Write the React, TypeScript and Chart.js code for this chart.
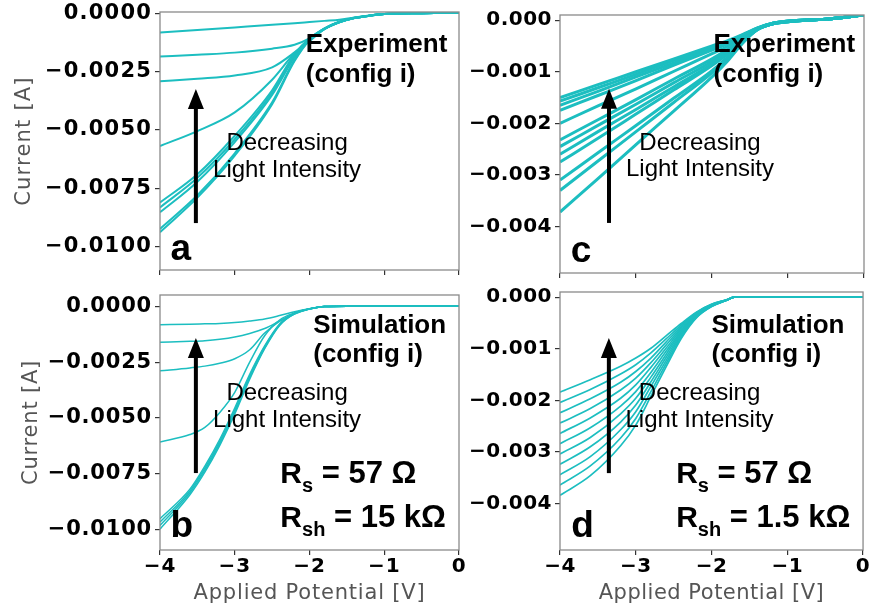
import { useEffect, useRef } from 'react';
import { Chart, registerables } from 'chart.js';

Chart.register(...registerables);

// ---------------- data ----------------
const xTicks = [-4, -3, -2, -1, 0];
const yTicksWide = [0, -0.0025, -0.005, -0.0075, -0.01];
const yTicksNarrow = [0, -0.001, -0.002, -0.003, -0.004];

// Panel a: experiment, config i
const vA = [-4, -3.5, -3, -2.5, -2.2, -2, -1.8, -1.6, -1.4, -1.2, -1, -0.5, 0];
const a1 = [-0.00083, -0.00072, -0.00061, -0.0005, -0.00043, -0.00038, -0.00033, -0.00028, -0.00018, -0.0001, -0.00004, 0, 0.00002];
const a2 = [-0.00186, -0.00178, -0.00169, -0.00152, -0.00135, -0.00108, -0.00065, -0.00037, -0.0002, -0.00011, -0.00004, 0, 0.00002];
const a3 = [-0.00292, -0.00281, -0.00267, -0.00232, -0.00168, -0.00115, -0.00067, -0.00038, -0.0002, -0.00011, -0.00004, 0, 0.00002];
const a4 = [-0.00569, -0.00505, -0.00425, -0.00285, -0.00172, -0.0012, -0.00068, -0.00038, -0.00021, -0.00011, -0.00004, 0, 0.00002];
const a5 = [-0.00811, -0.0069, -0.00525, -0.0033, -0.00175, -0.00108, -0.00066, -0.00038, -0.00021, -0.00011, -0.00004, 0, 0.00002];
const a6 = [-0.00832, -0.00705, -0.0054, -0.0034, -0.00182, -0.0011, -0.00066, -0.00038, -0.00021, -0.00011, -0.00004, 0, 0.00002];
const a7 = [-0.00853, -0.00722, -0.00552, -0.0035, -0.00188, -0.00112, -0.00067, -0.00038, -0.00021, -0.00011, -0.00004, 0, 0.00002];
const a8 = [-0.00924, -0.0078, -0.006, -0.00382, -0.002, -0.00114, -0.00067, -0.00039, -0.00021, -0.00011, -0.00004, 0, 0.00002];
const a9 = [-0.00938, -0.0079, -0.0061, -0.0039, -0.00205, -0.00116, -0.00068, -0.00039, -0.00021, -0.00011, -0.00004, 0, 0.00002];

// Panel b: simulation, Rs = 57, Rsh = 15k
const vB = [-4, -3.6, -3.4, -3.2, -3.0, -2.8, -2.6, -2.4, -2.2, -2.0, -1.8, -1.5, -1, -0.5, 0];
const b1 = [-0.00083, -0.00081, -0.00079, -0.00077, -0.00073, -0.00066, -0.00057, -0.00042, -0.00025, -0.00011, -0.00001, 0, 0, 0, 0];
const b2 = [-0.00161, -0.00157, -0.00154, -0.00148, -0.00138, -0.00122, -0.001, -0.00066, -0.00032, -0.00012, -0.00001, 0, 0, 0, 0];
const b3 = [-0.00289, -0.00276, -0.00268, -0.00255, -0.00235, -0.00195, -0.0012, -0.00068, -0.00035, -0.00013, -0.00001, 0, 0, 0, 0];
const b4 = [-0.00607, -0.00574, -0.00542, -0.00475, -0.00385, -0.0025, -0.00132, -0.00062, -0.0003, -0.00012, -0.00001, 0, 0, 0, 0];
const b5 = [-0.0095, -0.00818, -0.00715, -0.00595, -0.00455, -0.00305, -0.00178, -0.0008, -0.00031, -0.00012, -0.00001, 0, 0, 0, 0];
const b6 = [-0.00965, -0.00826, -0.00724, -0.00604, -0.00464, -0.00312, -0.00182, -0.00082, -0.00032, -0.00012, -0.00001, 0, 0, 0, 0];
const b7 = [-0.0098, -0.00834, -0.00733, -0.00613, -0.00473, -0.00319, -0.00186, -0.00084, -0.00033, -0.00012, -0.00001, 0, 0, 0, 0];
const b8 = [-0.00997, -0.00843, -0.00742, -0.00622, -0.00482, -0.00326, -0.0019, -0.00086, -0.00034, -0.00013, -0.00001, 0, 0, 0, 0];

// Panel c: experiment, config i
const vC = [-4, -3.5, -3, -2.5, -2, -1.8, -1.6, -1.4, -1.2, -1, -0.5, 0];
const c1 = [-0.0015, -0.00125, -0.001, -0.00075, -0.0005, -0.0004, -0.00028, -0.00015, -0.00006, -0.00002, 0.00002, 0.0001];
const c2 = [-0.00157, -0.00131, -0.00105, -0.00078, -0.00052, -0.00042, -0.00029, -0.00015, -0.00006, -0.00002, 0.00002, 0.0001];
const c3 = [-0.00165, -0.00138, -0.0011, -0.00083, -0.00055, -0.00044, -0.0003, -0.00016, -0.00006, -0.00002, 0.00002, 0.0001];
const c4 = [-0.00175, -0.00146, -0.00117, -0.00087, -0.00058, -0.00046, -0.00031, -0.00016, -0.00006, -0.00002, 0.00002, 0.0001];
const c5 = [-0.002, -0.00166, -0.00133, -0.00099, -0.00065, -0.00051, -0.00033, -0.00016, -0.00006, -0.00002, 0.00002, 0.0001];
const c6 = [-0.00232, -0.00193, -0.00154, -0.00114, -0.00075, -0.00057, -0.00036, -0.00017, -0.00007, -0.00002, 0.00002, 0.0001];
const c7 = [-0.00245, -0.00204, -0.00163, -0.00121, -0.0008, -0.0006, -0.00037, -0.00017, -0.00007, -0.00002, 0.00002, 0.0001];
const c8 = [-0.0026, -0.00216, -0.00173, -0.00129, -0.00085, -0.00064, -0.00039, -0.00017, -0.00007, -0.00003, 0.00002, 0.0001];
const c9 = [-0.00275, -0.00229, -0.00182, -0.00135, -0.00088, -0.00066, -0.0004, -0.00018, -0.00007, -0.00003, 0.00002, 0.0001];
const c10 = [-0.0031, -0.00257, -0.00204, -0.00151, -0.00098, -0.00072, -0.00042, -0.00018, -0.00007, -0.00003, 0.00002, 0.0001];
const c11 = [-0.0033, -0.00273, -0.00216, -0.00159, -0.00102, -0.00075, -0.00043, -0.00018, -0.00007, -0.00003, 0.00002, 0.0001];
const c12 = [-0.00372, -0.00307, -0.00241, -0.00176, -0.0011, -0.0008, -0.00045, -0.00018, -0.00007, -0.00003, 0.00002, 0.0001];

// Panel d: simulation, Rs = 57, Rsh = 1.5k
const vD = [-4, -3.6, -3.2, -3.0, -2.8, -2.6, -2.4, -2.2, -2.0, -1.8, -1.7, -1, 0];
const d1 = [-0.00184, -0.0016, -0.00134, -0.00118, -0.00099, -0.00075, -0.00051, -0.00029, -0.00014, -0.00005, 0, 0, 0];
const d2 = [-0.00204, -0.00179, -0.00149, -0.00131, -0.00108, -0.00081, -0.00054, -0.0003, -0.00014, -0.00005, 0, 0, 0];
const d3 = [-0.00224, -0.00197, -0.00165, -0.00144, -0.00118, -0.00087, -0.00057, -0.00031, -0.00015, -0.00005, 0, 0, 0];
const d4 = [-0.00244, -0.00216, -0.0018, -0.00157, -0.00127, -0.00093, -0.0006, -0.00032, -0.00015, -0.00005, 0, 0, 0];
const d5 = [-0.00264, -0.00234, -0.00196, -0.0017, -0.00136, -0.00099, -0.00063, -0.00033, -0.00016, -0.00005, 0, 0, 0];
const d6 = [-0.00284, -0.00253, -0.00211, -0.00183, -0.00146, -0.00105, -0.00066, -0.00035, -0.00016, -0.00006, 0, 0, 0];
const d7 = [-0.00304, -0.00272, -0.00226, -0.00196, -0.00155, -0.00111, -0.00068, -0.00036, -0.00016, -0.00006, 0, 0, 0];
const d8 = [-0.00324, -0.0029, -0.00242, -0.00209, -0.00164, -0.00117, -0.00071, -0.00037, -0.00017, -0.00006, 0, 0, 0];
const d9 = [-0.00344, -0.00309, -0.00257, -0.00222, -0.00173, -0.00123, -0.00074, -0.00038, -0.00017, -0.00006, 0, 0, 0];
const d10 = [-0.00364, -0.00327, -0.00273, -0.00235, -0.00183, -0.00129, -0.00077, -0.00039, -0.00018, -0.00006, 0, 0, 0];
const d11 = [-0.00384, -0.00346, -0.00288, -0.00248, -0.00192, -0.00135, -0.0008, -0.0004, -0.00018, -0.00006, 0, 0, 0];

// ---------------- styling / layout ----------------
const W = 872;
const H = 611;
const TEAL = 'rgb(28,190,192)';
const TICK_FONT = 'DejaVu Sans';
const ANNOT_FONT = '"Liberation Sans", Arial, sans-serif';

type TextItem = { t: string; v: number; i: number; font: string; align: CanvasTextAlign };
type RItem = { v: number; i: number; sub: string; rest: string };
type Arrow = { v: number; from: number; to: number };

type Panel = {
  v: number[];
  curves: number[][];
  yMin: number;
  yMax: number;
  yTicks: number[];
  decimals: number;
  area: { left: number; top: number; right: number; bottom: number };
  yWidth: number;
  xHeight: number;
  showXLabels: boolean;
  yTitle: boolean;
  yTitlePad: number;
  yFontSize: number;
  spacing: string;
  lineWidth: number;
  texts: TextItem[];
  rs: RItem[];
  arrow: Arrow;
};

const boldBig = `bold 26px ${ANNOT_FONT}`;
const regular = `24px ${ANNOT_FONT}`;
const letter = `bold 37px ${ANNOT_FONT}`;

const panels: Panel[] = [
  {
    v: vA,
    curves: [a1, a2, a3, a4, a5, a6, a7, a8, a9],
    yMin: -0.011,
    yMax: 0.00005,
    yTicks: yTicksWide,
    decimals: 4,
    area: { left: 160, top: 12, right: 459, bottom: 270 },
    yWidth: 160,
    xHeight: 15,
    showXLabels: false,
    yTitle: true,
    yTitlePad: 12,
    yFontSize: 21,
    spacing: '1.2px',
    lineWidth: 2,
    texts: [
      { t: 'Experiment', v: -2.05, i: -0.00166, font: boldBig, align: 'left' },
      { t: '(config i)', v: -2.05, i: -0.00295, font: boldBig, align: 'left' },
      { t: 'Decreasing', v: -2.3, i: -0.00586, font: regular, align: 'center' },
      { t: 'Light Intensity', v: -2.3, i: -0.00702, font: regular, align: 'center' },
      { t: 'a', v: -3.86, i: -0.01057, font: letter, align: 'left' },
    ],
    rs: [],
    arrow: { v: -3.52, from: -0.00899, to: -0.00325 },
  },
  {
    v: vB,
    curves: [b1, b2, b3, b4, b5, b6, b7, b8],
    yMin: -0.0109,
    yMax: 0.0005,
    yTicks: yTicksWide,
    decimals: 4,
    area: { left: 160, top: 295, right: 459, bottom: 550 },
    yWidth: 160,
    xHeight: 61,
    showXLabels: true,
    yTitle: true,
    yTitlePad: 19,
    yFontSize: 21,
    spacing: '0.8px',
    lineWidth: 1.5,
    texts: [
      { t: 'Simulation', v: -1.95, i: -0.0012, font: boldBig, align: 'left' },
      { t: '(config i)', v: -1.95, i: -0.0025, font: boldBig, align: 'left' },
      { t: 'Decreasing', v: -2.3, i: -0.00419, font: regular, align: 'center' },
      { t: 'Light Intensity', v: -2.3, i: -0.0054, font: regular, align: 'center' },
      { t: 'b', v: -3.86, i: -0.01032, font: letter, align: 'left' },
    ],
    rs: [
      { v: -2.39, i: -0.0079, sub: 's', rest: ' = 57 \u03A9' },
      { v: -2.39, i: -0.00987, sub: 'sh', rest: ' = 15 k\u03A9' },
    ],
    arrow: { v: -3.52, from: -0.00746, to: -0.00142 },
  },
  {
    v: vC,
    curves: [c1, c2, c3, c4, c5, c6, c7, c8, c9, c10, c11, c12],
    yMin: -0.0049,
    yMax: 0.0001,
    yTicks: yTicksNarrow,
    decimals: 3,
    area: { left: 560, top: 15, right: 864, bottom: 273 },
    yWidth: 110,
    xHeight: 15,
    showXLabels: false,
    yTitle: false,
    yTitlePad: 0,
    yFontSize: 20,
    spacing: '0.5px',
    lineWidth: 3,
    texts: [
      { t: 'Experiment', v: -1.98, i: -0.000617, font: boldBig, align: 'left' },
      { t: '(config i)', v: -1.98, i: -0.0012, font: boldBig, align: 'left' },
      { t: 'Decreasing', v: -2.158, i: -0.002516, font: regular, align: 'center' },
      { t: 'Light Intensity', v: -2.158, i: -0.00302, font: regular, align: 'center' },
      { t: 'c', v: -3.86, i: -0.00469, font: letter, align: 'left' },
    ],
    rs: [],
    arrow: { v: -3.355, from: -0.00393, to: -0.00133 },
  },
  {
    v: vD,
    curves: [d1, d2, d3, d4, d5, d6, d7, d8, d9, d10, d11],
    yMin: -0.0049,
    yMax: 0.0001,
    yTicks: yTicksNarrow,
    decimals: 3,
    area: { left: 560, top: 292, right: 864, bottom: 550 },
    yWidth: 110,
    xHeight: 61,
    showXLabels: true,
    yTitle: false,
    yTitlePad: 0,
    yFontSize: 20,
    spacing: '0.5px',
    lineWidth: 1.7,
    texts: [
      { t: 'Simulation', v: -2.0, i: -0.000695, font: boldBig, align: 'left' },
      { t: '(config i)', v: -2.0, i: -0.001257, font: boldBig, align: 'left' },
      { t: 'Decreasing', v: -2.158, i: -0.00199, font: regular, align: 'center' },
      { t: 'Light Intensity', v: -2.158, i: -0.00252, font: regular, align: 'center' },
      { t: 'd', v: -3.85, i: -0.00465, font: letter, align: 'left' },
    ],
    rs: [
      { v: -2.467, i: -0.0036, sub: 's', rest: ' = 57 \u03A9' },
      { v: -2.467, i: -0.00445, sub: 'sh', rest: ' = 1.5 k\u03A9' },
    ],
    arrow: { v: -3.355, from: -0.00341, to: -0.00079 },
  },
];

const fmt = (d: number) => (val: number | string) => {
  const n = Number(val);
  if (Math.abs(n) < 1e-12) return (0).toFixed(d);
  return n.toFixed(d).replace('-', '\u2212');
};

function panelPlugin(p: Panel, idx: number) {
  return {
    id: 'panelDecor' + idx,
    beforeDraw(chart: any) {
      (chart.ctx as any).letterSpacing = p.spacing;
    },
    afterDraw(chart: any) {
      const ctx: CanvasRenderingContext2D = chart.ctx;
      (ctx as any).letterSpacing = '0px';
      const xs = chart.scales.x;
      const ys = chart.scales.y;
      const { left, top, right, bottom } = chart.chartArea;
      ctx.save();
      // frame
      ctx.strokeStyle = '#8a8a8a';
      ctx.lineWidth = 1.3;
      ctx.strokeRect(left, top, right - left, bottom - top);

      // arrow
      const ax = xs.getPixelForValue(p.arrow.v);
      const ay0 = ys.getPixelForValue(p.arrow.from);
      const ay1 = ys.getPixelForValue(p.arrow.to);
      const headL = 20;
      const headW = 8;
      ctx.strokeStyle = '#000';
      ctx.fillStyle = '#000';
      ctx.lineWidth = 4;
      ctx.beginPath();
      ctx.moveTo(ax, ay0);
      ctx.lineTo(ax, ay1 + headL - 1);
      ctx.stroke();
      ctx.beginPath();
      ctx.moveTo(ax, ay1);
      ctx.lineTo(ax - headW, ay1 + headL);
      ctx.lineTo(ax + headW, ay1 + headL);
      ctx.closePath();
      ctx.fill();

      // texts
      ctx.textBaseline = 'alphabetic';
      for (const t of p.texts) {
        ctx.font = t.font;
        ctx.textAlign = t.align;
        ctx.fillText(t.t, xs.getPixelForValue(t.v), ys.getPixelForValue(t.i));
      }
      // R_s / R_sh lines
      ctx.textAlign = 'left';
      for (const r of p.rs) {
        let x = xs.getPixelForValue(r.v);
        const y = ys.getPixelForValue(r.i);
        ctx.font = `bold 30px ${ANNOT_FONT}`;
        ctx.fillText('R', x, y);
        x += ctx.measureText('R').width;
        ctx.font = `bold 20px ${ANNOT_FONT}`;
        ctx.fillText(r.sub, x, y + 9);
        x += ctx.measureText(r.sub).width;
        ctx.font = `bold 31px ${ANNOT_FONT}`;
        ctx.fillText(r.rest, x, y);
      }
      ctx.restore();
    },
  };
}

function makeChart(canvas: HTMLCanvasElement, p: Panel, idx: number) {
  const pad = {
    left: p.area.left - p.yWidth,
    top: p.area.top,
    right: W - p.area.right,
    bottom: H - p.area.bottom - p.xHeight,
  };
  return new Chart(canvas, {
    type: 'line',
    data: {
      datasets: p.curves.map((c) => ({
        data: p.v.map((x, k) => ({ x, y: c[k] })),
        borderColor: TEAL,
        backgroundColor: TEAL,
        borderWidth: p.lineWidth,
        pointRadius: 0,
        fill: false,
        cubicInterpolationMode: 'monotone' as const,
      })),
    },
    options: {
      responsive: false,
      animation: false,
      events: [],
      layout: { padding: pad },
      plugins: {
        legend: { display: false },
        tooltip: { enabled: false },
        title: { display: false },
      },
      scales: {
        x: {
          type: 'linear',
          min: -4,
          max: 0,
          afterBuildTicks: (s: any) => {
            s.ticks = xTicks.map((value) => ({ value }));
          },
          afterFit: (s: any) => {
            s.height = p.xHeight;
          },
          grid: { drawOnChartArea: false, drawTicks: true, tickLength: 5, color: '#333', lineWidth: 1.2 },
          border: { display: false },
          ticks: {
            display: p.showXLabels,
            autoSkip: false,
            maxRotation: 0,
            padding: 2,
            color: '#000',
            font: { family: TICK_FONT, weight: 'bold', size: 20, lineHeight: 1 },
            callback: fmt(0),
          },
          title: {
            display: p.showXLabels,
            text: 'Applied Potential [V]',
            color: '#555',
            font: { family: TICK_FONT, size: 21 },
            padding: { top: 0, bottom: 5 },
          },
        },
        y: {
          type: 'linear',
          min: p.yMin,
          max: p.yMax,
          afterBuildTicks: (s: any) => {
            s.ticks = p.yTicks.map((value) => ({ value }));
          },
          afterFit: (s: any) => {
            s.width = p.yWidth;
          },
          grid: { drawOnChartArea: false, drawTicks: true, tickLength: 5, color: '#333', lineWidth: 1.2 },
          border: { display: false },
          ticks: {
            autoSkip: false,
            padding: 3,
            color: '#000',
            font: { family: TICK_FONT, weight: 'bold', size: p.yFontSize, lineHeight: 0.8 },
            callback: fmt(p.decimals),
          },
          title: {
            display: p.yTitle,
            text: 'Current [A]',
            color: '#555',
            font: { family: TICK_FONT, size: 21 },
            padding: { top: p.yTitlePad, bottom: 0 },
          },
        },
      },
    } as any,
    plugins: [panelPlugin(p, idx)],
  });
}

export default function App() {
  const r0 = useRef<HTMLCanvasElement>(null);
  const r1 = useRef<HTMLCanvasElement>(null);
  const r2 = useRef<HTMLCanvasElement>(null);
  const r3 = useRef<HTMLCanvasElement>(null);

  useEffect(() => {
    const refs = [r0, r1, r2, r3];
    const charts = panels.map((p, i) => makeChart(refs[i].current as HTMLCanvasElement, p, i));
    return () => charts.forEach((c) => c.destroy());
  }, []);

  const cs: React.CSSProperties = { position: 'absolute', left: 0, top: 0, width: W, height: H, display: 'block' };
  return (
    <div style={{ position: 'fixed', left: 0, top: 0, width: W, height: H, background: '#fff' }}>
      <canvas ref={r0} width={W} height={H} style={cs} />
      <canvas ref={r1} width={W} height={H} style={cs} />
      <canvas ref={r2} width={W} height={H} style={cs} />
      <canvas ref={r3} width={W} height={H} style={cs} />
    </div>
  );
}
